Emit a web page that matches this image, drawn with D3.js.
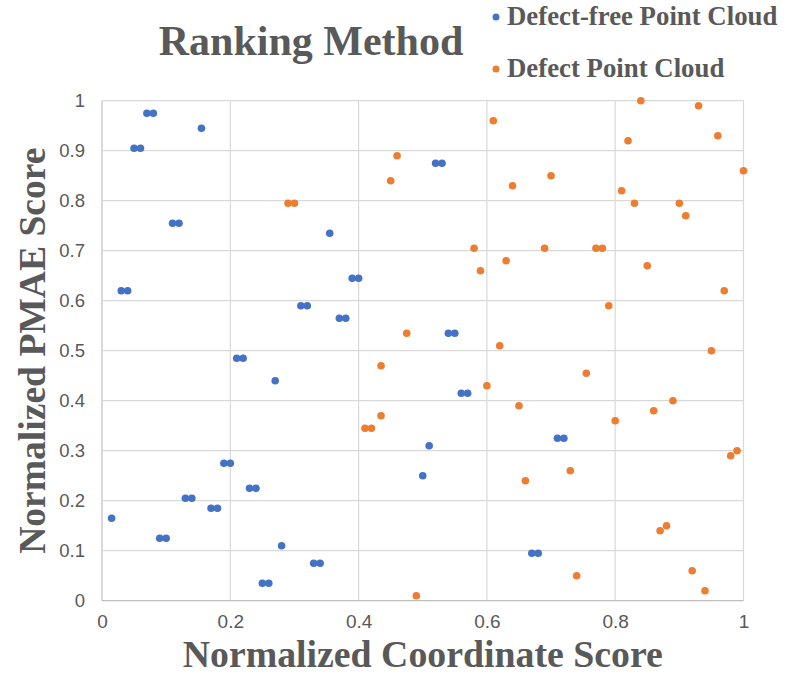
<!DOCTYPE html>
<html>
<head>
<meta charset="utf-8">
<script src="https://cdn.jsdelivr.net/npm/d3@7"></script>
<style>
  body { margin: 0; background: #fff; }
  svg { display: block; }
</style>
</head>
<body>
<div class="container"></div>
<script>
// Defect-free points (x = coordinate score, y = PMAE score)
var freeX = [0.07, 0.08, 0.155, 0.05, 0.06, 0.11, 0.12, 0.355, 0.39, 0.40, 0.03, 0.04,
  0.31, 0.32, 0.37, 0.38, 0.52, 0.53, 0.54, 0.55, 0.21, 0.22, 0.27, 0.56, 0.57,
  0.71, 0.72, 0.51, 0.19, 0.20, 0.50, 0.23, 0.24, 0.13, 0.14, 0.17, 0.18, 0.015,
  0.09, 0.10, 0.28, 0.67, 0.68, 0.33, 0.34, 0.25, 0.26];
var freeY = [0.975, 0.975, 0.945, 0.905, 0.905, 0.755, 0.755, 0.735, 0.645, 0.645, 0.62, 0.62,
  0.59, 0.59, 0.565, 0.565, 0.875, 0.875, 0.535, 0.535, 0.485, 0.485, 0.44, 0.415, 0.415,
  0.325, 0.325, 0.31, 0.275, 0.275, 0.25, 0.225, 0.225, 0.205, 0.205, 0.185, 0.185, 0.165,
  0.125, 0.125, 0.11, 0.095, 0.095, 0.075, 0.075, 0.035, 0.035];

// Defect points
var defX = [0.84, 0.93, 0.61, 0.96, 0.82, 0.46, 1.0, 0.70, 0.45, 0.64, 0.81, 0.29, 0.30,
  0.83, 0.90, 0.91, 0.58, 0.69, 0.77, 0.78, 0.63, 0.85, 0.59, 0.97, 0.79, 0.475,
  0.62, 0.95, 0.435, 0.755, 0.60, 0.89, 0.65, 0.86, 0.435, 0.80, 0.41, 0.42,
  0.99, 0.98, 0.73, 0.66, 0.88, 0.87, 0.92, 0.74, 0.94, 0.49];
var defY = [1.0, 0.99, 0.96, 0.93, 0.92, 0.89, 0.86, 0.85, 0.84, 0.83, 0.82, 0.795, 0.795,
  0.795, 0.795, 0.77, 0.705, 0.705, 0.705, 0.705, 0.68, 0.67, 0.66, 0.62, 0.59, 0.535,
  0.51, 0.50, 0.47, 0.455, 0.43, 0.40, 0.39, 0.38, 0.37, 0.36, 0.345, 0.345,
  0.30, 0.29, 0.26, 0.24, 0.15, 0.14, 0.06, 0.05, 0.02, 0.01];

var xTicks = [0, 0.2, 0.4, 0.6, 0.8, 1];
var yTicks = [0, 0.1, 0.2, 0.3, 0.4, 0.5, 0.6, 0.7, 0.8, 0.9, 1];

var series = [
  {name: "Defect-free Point Cloud", color: "#4472c4", xs: freeX, ys: freeY},
  {name: "Defect Point Cloud", color: "#ed7d31", xs: defX, ys: defY}
];

const WIDTH = 790;
const HEIGHT = 679;
const LEFT = 102, RIGHT = 743.5, TOP = 100.7, BOTTOM = 600.7;
const SERIF = "'Liberation Serif', 'Times New Roman', serif";
const GREY = "#595959";

var svg = d3.select('.container').append('svg').attr("width", WIDTH).attr("height", HEIGHT);

var x = d3.scaleLinear().domain([0, 1]).range([LEFT, RIGHT]);
var y = d3.scaleLinear().domain([0, 1]).range([BOTTOM, TOP]);

// grid
svg.append("g").selectAll("line").data(xTicks).join("line")
  .attr("x1", d => x(d)).attr("x2", d => x(d))
  .attr("y1", TOP).attr("y2", BOTTOM)
  .attr("stroke", d => d === 0 ? "#bfbfbf" : "#d9d9d9").attr("stroke-width", 1.2);
svg.append("g").selectAll("line").data(yTicks).join("line")
  .attr("x1", LEFT).attr("x2", RIGHT)
  .attr("y1", d => y(d)).attr("y2", d => y(d))
  .attr("stroke", d => d === 0 ? "#bfbfbf" : "#d9d9d9").attr("stroke-width", 1.2);

// axes (labels only)
var xAxis = svg.append("g").attr("transform", "translate(0," + BOTTOM + ")")
  .call(d3.axisBottom(x).tickValues(xTicks).tickSize(0).tickPadding(14).tickFormat(d3.format("~g")));
var yAxis = svg.append("g").attr("transform", "translate(" + LEFT + ",0)")
  .call(d3.axisLeft(y).tickValues(yTicks).tickSize(0).tickPadding(17).tickFormat(d3.format("~g")));
[xAxis, yAxis].forEach(function(a) { a.select(".domain").remove(); });
xAxis.selectAll("text").attr("fill", GREY)
  .style("font-family", "'Liberation Sans', Arial, sans-serif")
  .style("font-size", "19px");
yAxis.selectAll("text").attr("fill", GREY)
  .style("font-family", "'Liberation Sans', Arial, sans-serif")
  .style("font-size", "18.5px");

// points
series.forEach(function(s) {
  svg.append("g").selectAll("circle").data(s.xs).join("circle")
    .attr("cx", d => x(d))
    .attr("cy", (d, i) => y(s.ys[i]))
    .attr("r", 3.8)
    .attr("fill", s.color);
});

// title
svg.append("text").attr("x", 311).attr("y", 55).attr("text-anchor", "middle")
  .attr("fill", GREY).style("font-family", SERIF).style("font-weight", "bold")
  .style("font-size", "42px").text("Ranking Method");

// legend
series.forEach(function(s, i) {
  var ly = 17 + i * 52;
  svg.append("circle").attr("cx", 496).attr("cy", ly).attr("r", 3.5).attr("fill", s.color);
  svg.append("text").attr("x", 507).attr("y", ly + 8).attr("fill", GREY)
    .style("font-family", SERIF).style("font-weight", "bold")
    .style("font-size", "26.8px").text(s.name);
});

// axis titles
svg.append("text").attr("x", (LEFT + RIGHT) / 2).attr("y", 667).attr("text-anchor", "middle")
  .attr("fill", GREY).style("font-family", SERIF).style("font-weight", "bold")
  .style("font-size", "37.8px").text("Normalized Coordinate Score");
svg.append("text").attr("transform", "translate(45," + (TOP + BOTTOM) / 2 + ") rotate(-90)")
  .attr("text-anchor", "middle")
  .attr("fill", GREY).style("font-family", SERIF).style("font-weight", "bold")
  .style("font-size", "37.6px").text("Normalized PMAE Score");
</script>
</body>
</html>
